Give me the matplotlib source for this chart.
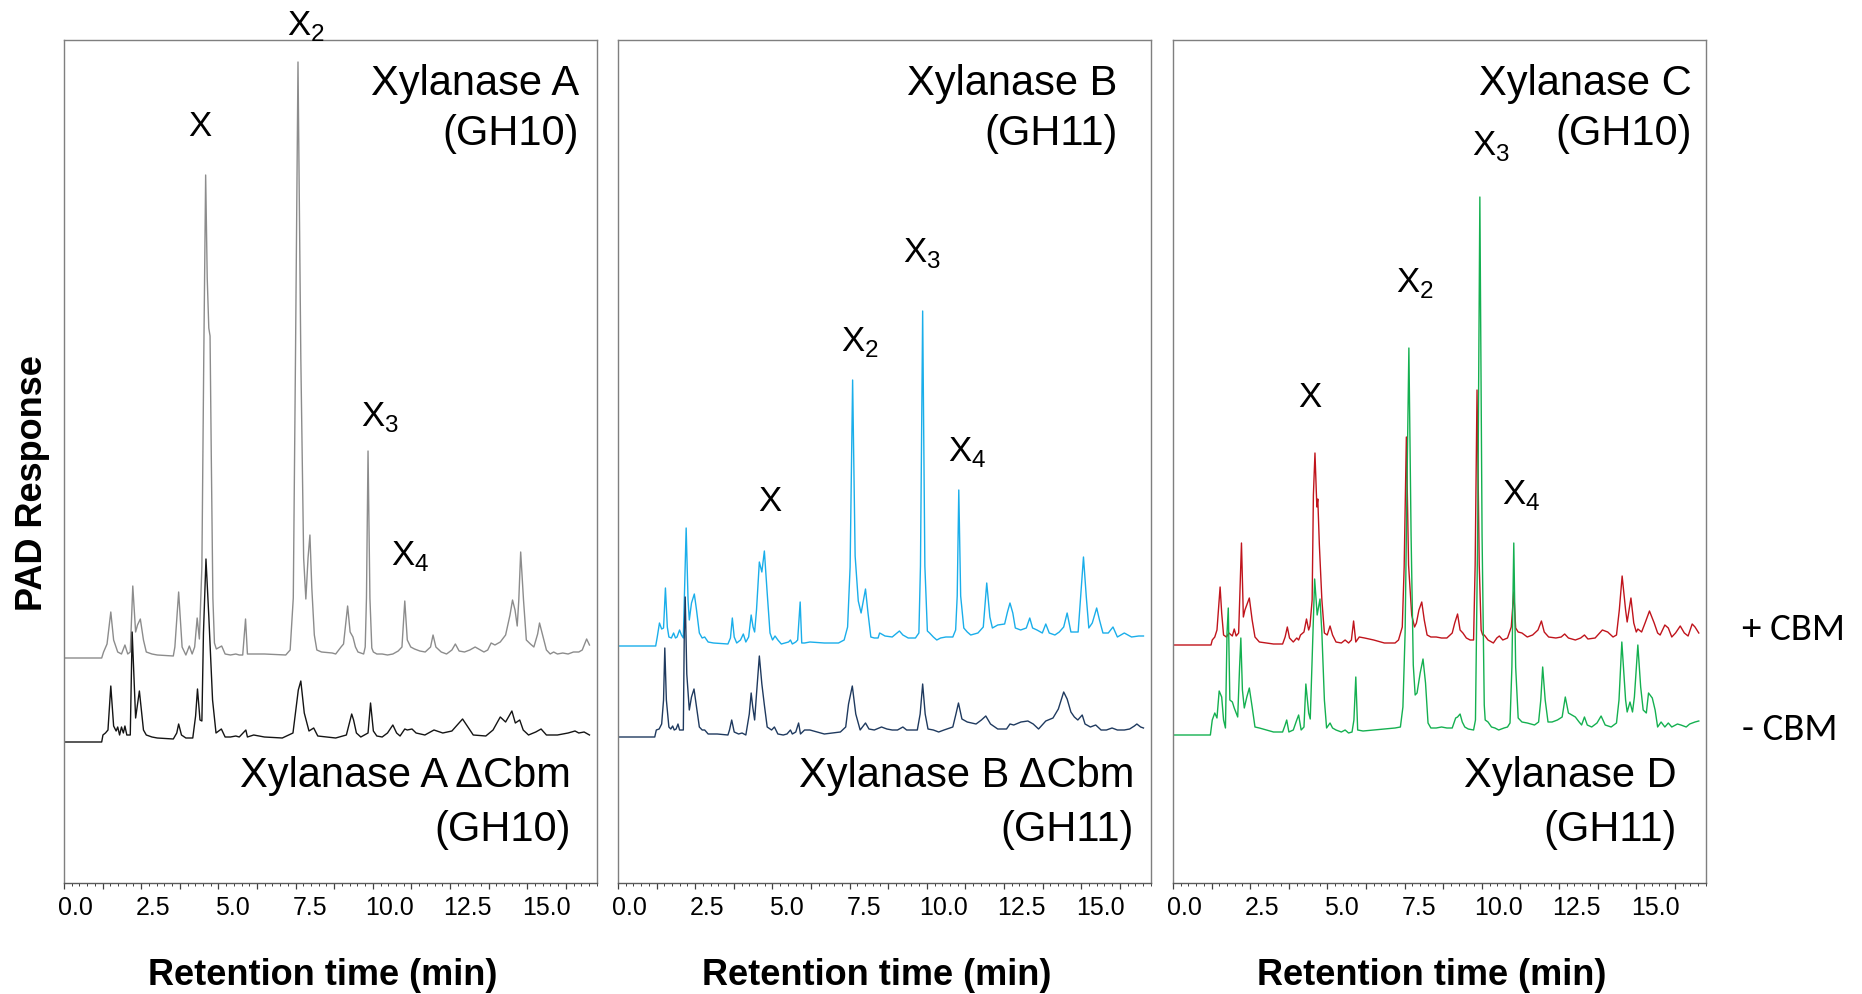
import matplotlib
matplotlib.use("Agg")
import matplotlib.pyplot as plt
import numpy as np

plt.rcParams['font.family'] = ['Liberation Sans', 'DejaVu Sans']
plt.rcParams['mathtext.fontset'] = 'custom'
plt.rcParams['mathtext.rm'] = 'Liberation Sans'

# chromatogram traces: (retention time in min, PAD response above own baseline)
XYL_A = [(-0.35, 0), (0.85, 0), (0.91, 6), (1.02, 14), (1.14, 46), (1.23, 18), (1.36, 6), (1.48, 4), (1.59, 13), (1.68, 4),
         (1.76, 6), (1.84, 72), (1.93, 26), (1.99, 33), (2.08, 39), (2.18, 18), (2.27, 6), (2.45, 4), (2.62, 3), (3.13, 2),
         (3.18, 11), (3.30, 66), (3.41, 11), (3.53, 3), (3.64, 12), (3.73, 4), (3.81, 11), (3.89, 40), (3.96, 19), (4.04, 91),
         (4.10, 300), (4.16, 483), (4.21, 380), (4.26, 330), (4.30, 322), (4.34, 200), (4.39, 60), (4.44, 15), (4.50, 9),
         (4.67, 12), (4.78, 4), (4.95, 3), (5.12, 4), (5.23, 3), (5.34, 3), (5.43, 39), (5.49, 4), (5.69, 4), (6.03, 4),
         (6.71, 3), (6.85, 8), (6.95, 60), (7.02, 300), (7.10, 596), (7.19, 300), (7.28, 100), (7.35, 59), (7.42, 100), (7.48, 123),
         (7.54, 70), (7.62, 23), (7.70, 8), (7.85, 6), (8.19, 5), (8.30, 4), (8.47, 11), (8.55, 14), (8.68, 52), (8.76, 26),
         (8.85, 21), (8.93, 11), (9.01, 6), (9.19, 4), (9.24, 11), (9.28, 60), (9.33, 207), (9.39, 60), (9.45, 10), (9.50, 6),
         (9.61, 4), (9.78, 4), (9.95, 3), (10.12, 4), (10.29, 7), (10.41, 11), (10.50, 57), (10.58, 18), (10.69, 11), (10.81, 9),
         (10.98, 7), (11.15, 6), (11.32, 11), (11.40, 23), (11.49, 11), (11.66, 6), (11.83, 4), (12.00, 8), (12.11, 14), (12.23, 7),
         (12.40, 6), (12.57, 8), (12.74, 11), (12.91, 8), (13.02, 6), (13.14, 8), (13.25, 15), (13.37, 13), (13.54, 16), (13.71, 23),
         (13.85, 43), (13.93, 58), (14.01, 48), (14.08, 32), (14.13, 58), (14.19, 106), (14.28, 58), (14.37, 18), (14.50, 14), (14.61, 11),
         (14.73, 24), (14.79, 35), (14.88, 24), (15.01, 8), (15.13, 4), (15.24, 6), (15.36, 4), (15.53, 5), (15.70, 4), (15.87, 6),
         (16.04, 6), (16.15, 8), (16.29, 19), (16.38, 13)]

XYL_A_DCBM = [(-0.35, 0), (0.85, 0), (0.89, 7), (0.97, 9), (1.05, 12), (1.14, 56), (1.23, 16), (1.31, 11), (1.36, 15), (1.42, 7),
              (1.48, 15), (1.54, 9), (1.59, 16), (1.65, 7), (1.76, 7), (1.82, 110), (1.93, 24), (2.05, 51), (2.18, 12), (2.27, 7),
              (2.45, 5), (2.62, 4), (3.13, 3), (3.24, 9), (3.30, 18), (3.39, 7), (3.53, 4), (3.75, 4), (3.84, 26), (3.90, 53),
              (3.98, 22), (4.04, 21), (4.09, 109), (4.17, 183), (4.26, 126), (4.38, 42), (4.49, 9), (4.66, 13), (4.78, 5), (4.95, 5),
              (5.12, 6), (5.23, 5), (5.44, 12), (5.49, 5), (5.69, 7), (6.03, 5), (6.60, 4), (6.94, 9), (7.11, 52), (7.19, 61),
              (7.30, 29), (7.45, 11), (7.60, 14), (7.73, 6), (8.30, 4), (8.64, 7), (8.81, 28), (8.87, 22), (8.96, 9), (9.10, 5),
              (9.33, 9), (9.41, 39), (9.50, 11), (9.61, 6), (9.78, 5), (9.95, 9), (10.12, 17), (10.24, 9), (10.35, 6), (10.50, 13),
              (10.58, 12), (10.73, 13), (10.86, 9), (11.14, 7), (11.43, 12), (11.71, 9), (12.00, 11), (12.34, 23), (12.68, 7), (13.08, 6),
              (13.31, 12), (13.54, 25), (13.71, 20), (13.91, 31), (14.02, 19), (14.16, 22), (14.27, 12), (14.44, 7), (14.67, 10), (14.84, 13),
              (15.01, 7), (15.36, 7), (15.70, 9), (15.92, 11), (16.04, 9), (16.21, 10), (16.38, 7)]

XYL_B = [(-0.35, 0), (0.85, 0), (0.90, 9), (0.97, 23), (1.04, 17), (1.10, 18), (1.16, 58), (1.22, 19), (1.27, 9), (1.35, 8),
         (1.42, 13), (1.48, 8), (1.53, 9), (1.61, 16), (1.67, 11), (1.73, 8), (1.76, 46), (1.82, 118), (1.88, 46), (1.92, 26),
         (1.99, 43), (2.08, 52), (2.15, 36), (2.24, 13), (2.33, 8), (2.41, 9), (2.52, 4), (2.69, 3), (3.15, 2), (3.23, 8),
         (3.29, 28), (3.35, 9), (3.43, 3), (3.55, 6), (3.64, 12), (3.72, 4), (3.81, 9), (3.89, 31), (3.95, 19), (4.00, 14),
         (4.06, 36), (4.15, 84), (4.23, 74), (4.31, 95), (4.40, 53), (4.49, 13), (4.57, 6), (4.65, 10), (4.74, 6), (4.85, 2),
         (4.97, 3), (5.08, 4), (5.14, 6), (5.20, 2), (5.31, 4), (5.37, 6), (5.45, 44), (5.50, 3), (5.59, 3), (5.76, 4),
         (6.22, 3), (6.67, 3), (6.85, 6), (6.96, 19), (7.04, 79), (7.12, 266), (7.20, 90), (7.30, 45), (7.39, 33), (7.53, 57),
         (7.61, 33), (7.70, 9), (7.81, 8), (7.93, 8), (7.98, 13), (8.04, 12), (8.15, 10), (8.38, 9), (8.61, 15), (8.72, 11),
         (8.89, 8), (9.12, 8), (9.23, 13), (9.28, 80), (9.35, 335), (9.42, 80), (9.50, 15), (9.57, 13), (9.69, 9), (9.80, 6),
         (9.92, 8), (10.09, 9), (10.31, 9), (10.40, 16), (10.45, 50), (10.50, 156), (10.56, 50), (10.66, 18), (10.77, 14), (10.88, 11),
         (11.11, 13), (11.28, 19), (11.39, 63), (11.49, 29), (11.57, 18), (11.74, 21), (11.96, 22), (12.05, 34), (12.13, 43), (12.22, 33),
         (12.30, 18), (12.47, 16), (12.65, 18), (12.76, 28), (12.85, 18), (12.99, 16), (13.16, 13), (13.27, 22), (13.38, 13), (13.56, 11),
         (13.70, 14), (13.84, 19), (13.95, 33), (14.07, 14), (14.30, 14), (14.39, 53), (14.47, 89), (14.56, 49), (14.64, 18), (14.75, 23),
         (14.89, 38), (14.98, 26), (15.09, 13), (15.26, 13), (15.41, 19), (15.55, 9), (15.77, 13), (16.00, 9), (16.23, 10), (16.38, 10)]

XYL_B_DCBM = [(-0.35, 0), (0.82, 0), (0.87, 7), (0.96, 8), (1.04, 13), (1.10, 37), (1.14, 89), (1.19, 37), (1.27, 10), (1.33, 8),
              (1.39, 11), (1.44, 7), (1.50, 8), (1.56, 13), (1.61, 7), (1.73, 7), (1.76, 103), (1.79, 140), (1.84, 63), (1.92, 27),
              (1.99, 40), (2.07, 48), (2.15, 30), (2.24, 10), (2.33, 7), (2.41, 7), (2.52, 3), (2.81, 3), (3.15, 2), (3.20, 7),
              (3.27, 17), (3.35, 5), (3.49, 3), (3.60, 4), (3.72, 2), (3.83, 23), (3.89, 44), (3.94, 30), (4.00, 17), (4.06, 43),
              (4.15, 81), (4.23, 53), (4.31, 32), (4.40, 10), (4.54, 7), (4.63, 10), (4.74, 3), (4.91, 2), (5.03, 3), (5.14, 7),
              (5.20, 3), (5.31, 5), (5.40, 14), (5.46, 3), (5.59, 7), (5.76, 7), (6.22, 3), (6.73, 5), (6.90, 10), (6.99, 33),
              (7.11, 51), (7.22, 23), (7.36, 7), (7.53, 14), (7.64, 8), (7.81, 7), (8.04, 10), (8.21, 8), (8.38, 7), (8.55, 7),
              (8.72, 10), (8.84, 7), (9.18, 7), (9.27, 23), (9.35, 53), (9.43, 23), (9.52, 8), (9.69, 7), (9.86, 5), (10.03, 7),
              (10.31, 10), (10.41, 23), (10.49, 34), (10.60, 18), (10.77, 15), (11.05, 13), (11.22, 17), (11.36, 21), (11.51, 13), (11.74, 8),
              (12.02, 8), (12.13, 13), (12.25, 12), (12.48, 15), (12.70, 16), (12.87, 13), (13.04, 8), (13.27, 16), (13.50, 19), (13.67, 28),
              (13.84, 45), (13.95, 38), (14.07, 25), (14.18, 20), (14.29, 17), (14.43, 22), (14.52, 13), (14.69, 10), (14.86, 12), (15.03, 7),
              (15.20, 7), (15.38, 9), (15.55, 7), (15.77, 7), (15.94, 8), (16.09, 11), (16.17, 13), (16.29, 10), (16.38, 9)]

XYL_C = [(-0.35, 0), (0.86, 0), (0.90, 5), (0.98, 8), (1.05, 15), (1.15, 58), (1.20, 32), (1.26, 10), (1.35, 8), (1.43, 12),
         (1.54, 9), (1.60, 16), (1.66, 9), (1.74, 12), (1.83, 102), (1.89, 28), (1.94, 35), (2.08, 47), (2.17, 25), (2.26, 8),
         (2.40, 3), (2.63, 2), (2.85, 1), (3.14, 1), (3.22, 8), (3.29, 18), (3.36, 7), (3.48, 3), (3.59, 7), (3.65, 5),
         (3.71, 10), (3.82, 13), (3.90, 26), (3.97, 15), (4.01, 19), (4.08, 45), (4.12, 150), (4.17, 192), (4.23, 138), (4.26, 146),
         (4.31, 100), (4.39, 45), (4.47, 12), (4.56, 10), (4.65, 19), (4.73, 10), (4.84, 3), (5.01, 2), (5.13, 5), (5.24, 2),
         (5.33, 5), (5.40, 24), (5.47, 3), (5.58, 8), (5.75, 7), (6.04, 5), (6.38, 2), (6.72, 2), (6.83, 5), (6.95, 18),
         (7.01, 78), (7.08, 208), (7.15, 80), (7.25, 30), (7.34, 18), (7.40, 22), (7.48, 35), (7.57, 43), (7.65, 25), (7.74, 10),
         (7.86, 8), (8.03, 8), (8.20, 7), (8.37, 7), (8.54, 12), (8.62, 22), (8.71, 31), (8.79, 15), (8.88, 12), (8.99, 7),
         (9.11, 5), (9.22, 5), (9.27, 80), (9.33, 255), (9.40, 80), (9.46, 15), (9.51, 10), (9.56, 10), (9.68, 5), (9.85, 2),
         (9.96, 7), (10.04, 9), (10.15, 5), (10.30, 7), (10.42, 18), (10.50, 53), (10.56, 17), (10.64, 13), (10.76, 12), (10.93, 8),
         (11.10, 10), (11.27, 15), (11.38, 24), (11.47, 13), (11.61, 8), (11.84, 7), (12.01, 8), (12.12, 11), (12.24, 7), (12.46, 5),
         (12.63, 7), (12.75, 10), (12.86, 6), (13.09, 7), (13.32, 15), (13.49, 13), (13.66, 8), (13.77, 10), (13.86, 35), (13.95, 69),
         (14.06, 35), (14.11, 23), (14.23, 47), (14.32, 22), (14.40, 13), (14.45, 16), (14.57, 13), (14.68, 22), (14.82, 34), (14.97, 22),
         (15.08, 12), (15.16, 10), (15.31, 20), (15.42, 17), (15.53, 8), (15.65, 12), (15.80, 19), (15.93, 12), (16.05, 9), (16.18, 21),
         (16.27, 18), (16.39, 12)]

XYL_D = [(-0.35, 0), (0.84, 0), (0.90, 15), (0.98, 22), (1.05, 17), (1.12, 44), (1.20, 38), (1.26, 15), (1.32, 7), (1.37, 102),
         (1.41, 127), (1.46, 35), (1.54, 33), (1.60, 27), (1.71, 18), (1.77, 68), (1.81, 97), (1.86, 45), (1.92, 27), (2.00, 38),
         (2.08, 47), (2.17, 28), (2.26, 8), (2.40, 7), (2.63, 5), (2.85, 3), (3.14, 3), (3.22, 10), (3.27, 15), (3.34, 3),
         (3.48, 5), (3.59, 15), (3.65, 20), (3.73, 5), (3.82, 8), (3.88, 51), (3.97, 22), (4.02, 16), (4.08, 75), (4.16, 156),
         (4.24, 120), (4.33, 136), (4.39, 102), (4.47, 35), (4.54, 7), (4.65, 12), (4.73, 7), (4.84, 5), (5.01, 3), (5.13, 5),
         (5.24, 2), (5.35, 3), (5.41, 15), (5.47, 58), (5.53, 5), (5.70, 4), (6.04, 5), (6.38, 6), (6.72, 7), (6.89, 8),
         (6.97, 28), (7.04, 102), (7.10, 250), (7.16, 387), (7.23, 200), (7.30, 70), (7.36, 40), (7.42, 42), (7.52, 62), (7.61, 76),
         (7.69, 52), (7.77, 12), (7.86, 7), (8.03, 7), (8.20, 8), (8.37, 7), (8.54, 7), (8.65, 17), (8.71, 18), (8.79, 21),
         (8.86, 13), (8.94, 8), (9.05, 6), (9.22, 5), (9.28, 15), (9.35, 200), (9.42, 538), (9.49, 200), (9.56, 30), (9.59, 15),
         (9.68, 13), (9.79, 8), (9.90, 7), (10.02, 5), (10.19, 7), (10.30, 8), (10.38, 12), (10.44, 68), (10.50, 192), (10.56, 68),
         (10.64, 17), (10.76, 13), (10.93, 12), (11.16, 10), (11.29, 13), (11.36, 35), (11.42, 68), (11.50, 35), (11.59, 13), (11.72, 13),
         (11.89, 15), (12.04, 18), (12.14, 38), (12.24, 22), (12.35, 20), (12.46, 18), (12.58, 13), (12.66, 10), (12.75, 18), (12.84, 10),
         (12.98, 8), (13.15, 12), (13.28, 19), (13.41, 10), (13.60, 8), (13.77, 12), (13.85, 35), (13.94, 93), (14.06, 35), (14.11, 23),
         (14.20, 33), (14.28, 23), (14.34, 38), (14.45, 90), (14.54, 48), (14.62, 25), (14.72, 22), (14.79, 42), (14.91, 37), (15.00, 25),
         (15.08, 8), (15.19, 13), (15.31, 8), (15.42, 12), (15.53, 8), (15.71, 11), (15.82, 10), (15.99, 8), (16.10, 11), (16.27, 13),
         (16.39, 14)]

TICK_VALUES = [0.0, 2.5, 5.0, 7.5, 10.0, 12.5, 15.0]

# peak labels per panel: (text, retention time of label left edge, response height of baseline)
PEAK_LABELS = [
    [('X', 3.60, 747), (r'X$_\mathregular{2}$', 6.74, 848), (r'X$_\mathregular{3}$', 9.10, 457), (r'X$_\mathregular{4}$', 10.06, 318)],
    [('X', 4.11, 372), (r'X$_\mathregular{2}$', 6.75, 532), (r'X$_\mathregular{3}$', 8.73, 621), (r'X$_\mathregular{4}$', 10.16, 422)],
    [('X', 3.63, 476), (r'X$_\mathregular{2}$', 6.75, 591), (r'X$_\mathregular{3}$', 9.16, 728), (r'X$_\mathregular{4}$', 10.13, 379)],
]

# enzyme names: (top line, second line, right edge x) for the +CBM and -CBM traces
ENZYME_TOP = [('Xylanase A', '(GH10)', 16.05), ('Xylanase B', '(GH11)', 15.56), ('Xylanase C', '(GH10)', 16.18)]
ENZYME_BOTTOM = [('Xylanase A \u0394Cbm', '(GH10)', 15.80), ('Xylanase B \u0394Cbm', '(GH11)', 16.08), ('Xylanase D', '(GH11)', 15.70)]

# styling
TRACES = [(XYL_A, XYL_A_DCBM), (XYL_B, XYL_B_DCBM), (XYL_C, XYL_D)]
COLORS = [('#8c8c8c', '#141414'), ('#1aaeea', '#1f3a5f'), ('#c0141c', '#14b050')]
OFFSETS = [(225, 141), (237, 146), (238, 148)]
XMIN, XMAX, YMAX = -0.35, 16.62, 843

fig = plt.figure(figsize=(18.62, 9.94), dpi=100)
lefts = [64, 618, 1173]

for i, left in enumerate(lefts):
    ax = fig.add_axes([left / 1862, 1 - 883 / 994, 533 / 1862, 843 / 994])
    top, bottom = TRACES[i]
    for trace, color, off in zip((top, bottom), COLORS[i], OFFSETS[i]):
        t = np.array([p[0] for p in trace])
        s = np.array([p[1] for p in trace])
        ax.plot(t, s + off, color=color, lw=1.0, solid_joinstyle='round')

    ax.set_xlim(XMIN, XMAX)
    ax.set_ylim(0, YMAX)
    ax.set_yticks([])
    for sp in ax.spines.values():
        sp.set_color('#7f7f7f')
        sp.set_linewidth(1.0)
    ax.spines['bottom'].set_color('#5a5a5a')

    # tick marks (every 1.25 min, minor every 0.25) and separate labels
    ax.set_xticks(XMIN + 1.229 * np.arange(14))
    ax.set_xticks(XMIN + 0.2458 * np.arange(70), minor=True)
    ax.tick_params(axis='x', which='major', direction='out', length=4.3, width=0.9,
                   color='#404040', labelbottom=False)
    ax.tick_params(axis='x', which='minor', direction='out', length=2.0, width=0.7,
                   color='#404040')
    for v in TICK_VALUES:
        ax.text(v, -0.016, f'{v:.1f}', transform=ax.get_xaxis_transform(),
                ha='center', va='top', fontsize=18)

    ax.text(0.485, -0.121, 'Retention time (min)', transform=ax.transAxes,
            ha='center', va='baseline', fontsize=26, fontweight='bold')

    for txt, tx, ty in PEAK_LABELS[i]:
        ax.text(tx, ty, txt, ha='left', va='baseline', fontsize=25, clip_on=False)

    name, gh, xr = ENZYME_TOP[i]
    ax.text(xr, 788, name, ha='right', va='baseline', fontsize=30)
    ax.text(xr, 738, gh, ha='right', va='baseline', fontsize=30)
    name, gh, xr = ENZYME_BOTTOM[i]
    ax.text(xr, 96, name, ha='right', va='baseline', fontsize=30)
    ax.text(xr, 42, gh, ha='right', va='baseline', fontsize=30)

fig.text(0.0177, 0.514, 'PAD Response', rotation=90, ha='center', va='center',
         fontsize=26, fontweight='bold')
fig.text(0.9354, 0.3561, '+ CBM', family=['Carlito', 'DejaVu Sans'], fontsize=28, va='baseline')
fig.text(0.9354, 0.2555, '- CBM', family=['Carlito', 'DejaVu Sans'], fontsize=28, va='baseline')

fig.savefig('out.png', dpi=100)
